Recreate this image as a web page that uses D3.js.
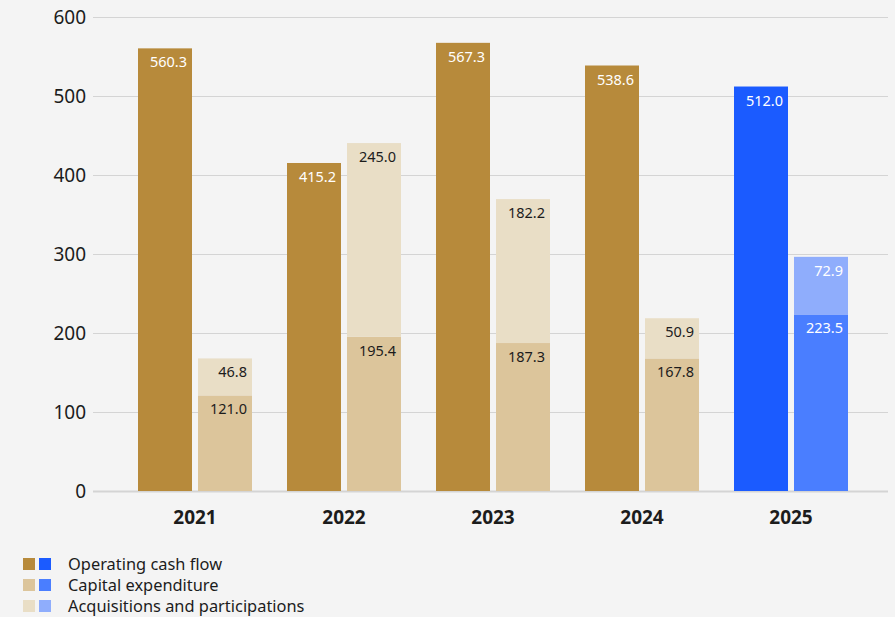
<!DOCTYPE html>
<html>
<head>
<meta charset="utf-8">
<script src="https://cdn.jsdelivr.net/npm/d3@7"></script>
<style>
  html, body { margin: 0; padding: 0; background: #f4f4f4; }
  svg { display: block; font-family: "Noto Sans", "Open Sans", sans-serif; }
</style>
</head>
<body>
<svg id="chart" width="895" height="617"></svg>
<script>
// Cash flow figures per year (EUR m)
const years = ["2021", "2022", "2023", "2024", "2025"];
const operatingCashFlow = [560.3, 415.2, 567.3, 538.6, 512.0];
const capitalExpenditure = [121.0, 195.4, 187.3, 167.8, 223.5];
const acquisitions = [46.8, 245.0, 182.2, 50.9, 72.9];
const yTicks = [0, 100, 200, 300, 400, 500, 600];
const seriesNames = ["Operating cash flow", "Capital expenditure", "Acquisitions and participations"];

// Gold palette for actuals, blue palette for the current year
const goldColors = ["#b78a3b", "#dcc59b", "#e9dec6"];
const blueColors = ["#1b5bff", "#4a7eff", "#8fadfc"];
const highlightYear = "2025";

const FONT = '"Noto Sans", "Open Sans", sans-serif';
const svg = d3.select("#chart");

const y = d3.scaleLinear().domain([0, 600]).range([491, 17]);

const x = d3.scaleBand()
  .domain(years)
  .range([120.5, 865.5])
  .paddingInner(35 / 149)
  .paddingOuter(35 / 298);

const xSub = d3.scaleBand()
  .domain(["op", "cap"])
  .range([0, x.bandwidth()])
  .paddingInner(0.1);

// Gridlines and y-axis labels
const yAxis = d3.axisLeft(y)
  .tickValues(yTicks)
  .tickSize(-(888 - 93))
  .tickPadding(7)
  .tickFormat(d3.format("d"));

const gAxis = svg.append("g")
  .attr("transform", "translate(93,0)")
  .call(yAxis)
  .attr("font-family", FONT);
gAxis.select(".domain").remove();
gAxis.selectAll(".tick line")
  .attr("stroke", "#d4d4d4")
  .attr("stroke-width", d => d === 0 ? 2 : 1);
gAxis.selectAll(".tick text")
  .attr("fill", "#1c1c1c")
  .attr("font-size", 19)
  .attr("dy", "0.36em");

// X-axis year labels
const xAxis = d3.axisBottom(x).tickSize(0).tickPadding(0);
const gX = svg.append("g")
  .attr("transform", "translate(0,491)")
  .call(xAxis)
  .attr("font-family", FONT);
gX.select(".domain").remove();
gX.selectAll(".tick text")
  .attr("fill", "#1c1c1c")
  .attr("font-size", 19)
  .attr("font-weight", "bold")
  .attr("dy", 0)
  .attr("y", 33);

const rows = years.map((yr, i) => ({
  year: yr,
  op: operatingCashFlow[i],
  cap: capitalExpenditure[i],
  acq: acquisitions[i],
  colors: yr === highlightYear ? blueColors : goldColors
}));

const groups = svg.append("g").selectAll("g")
  .data(rows)
  .join("g")
  .attr("transform", d => `translate(${x(d.year)},0)`);

// Segments: operating bar, then capex with acquisitions stacked on top
function segments(d) {
  return [
    { key: "op", x0: xSub("op"), v0: 0, v1: d.op, value: d.op, color: d.colors[0],
      text: "#ffffff" },
    { key: "cap", x0: xSub("cap"), v0: 0, v1: d.cap, value: d.cap, color: d.colors[1],
      text: d.year === highlightYear ? "#ffffff" : "#1c1c1c" },
    { key: "acq", x0: xSub("cap"), v0: d.cap, v1: d.cap + d.acq, value: d.acq, color: d.colors[2],
      text: d.year === highlightYear ? "#ffffff" : "#1c1c1c" }
  ];
}

groups.selectAll("rect")
  .data(segments)
  .join("rect")
  .attr("x", s => s.x0)
  .attr("width", xSub.bandwidth())
  .attr("y", s => y(s.v1))
  .attr("height", s => y(s.v0) - y(s.v1))
  .attr("fill", s => s.color);

groups.selectAll("text.val")
  .data(segments)
  .join("text")
  .attr("class", "val")
  .attr("x", s => s.x0 + xSub.bandwidth() - 5)
  .attr("y", s => y(s.v1) + 19)
  .attr("text-anchor", "end")
  .attr("font-size", 14.5)
  .attr("fill", s => s.text)
  .text(s => d3.format(".1f")(s.value));

// Legend
const legend = svg.append("g").attr("transform", "translate(23,558)");
const legendRows = legend.selectAll("g")
  .data(seriesNames)
  .join("g")
  .attr("transform", (d, i) => `translate(0,${i * 21})`);
legendRows.append("rect")
  .attr("width", 12).attr("height", 12)
  .attr("fill", (d, i) => goldColors[i]);
legendRows.append("rect")
  .attr("x", 16)
  .attr("width", 12).attr("height", 12)
  .attr("fill", (d, i) => blueColors[i]);
legendRows.append("text")
  .attr("x", 45)
  .attr("y", 11.5)
  .attr("font-size", 16.4)
  .attr("fill", "#1c1c1c")
  .text(d => d);
</script>
</body>
</html>
